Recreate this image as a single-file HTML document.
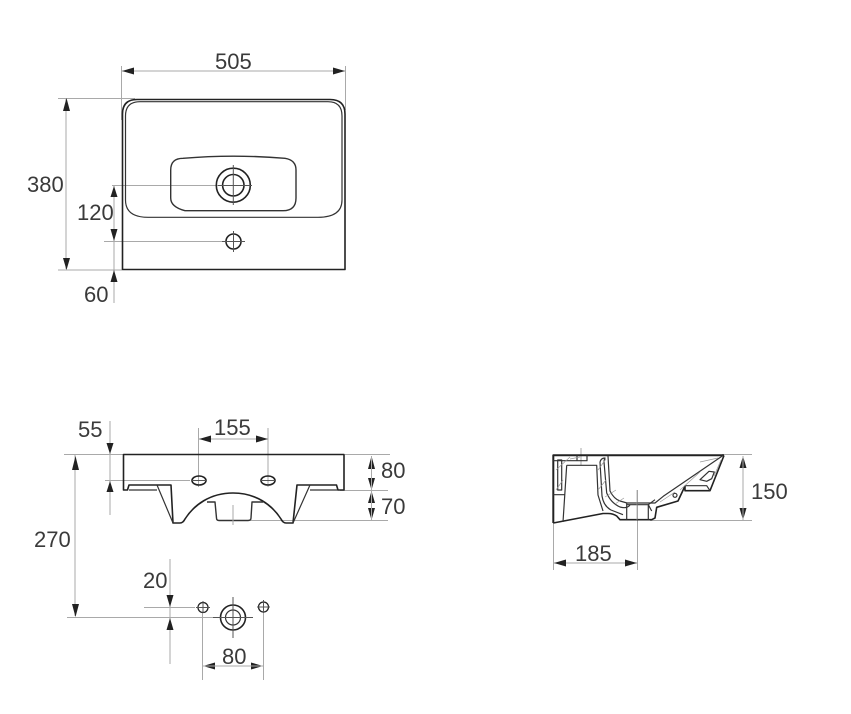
<!DOCTYPE html>
<html><head><meta charset="utf-8"><style>
html,body{margin:0;padding:0;background:#fff;width:851px;height:714px;overflow:hidden}
svg{display:block}
text{font-family:"Liberation Sans",sans-serif;font-size:22px;fill:#3a3a3a}
.d{stroke:#a9a9a9;stroke-width:1;fill:none}
.o{stroke:#222;stroke-width:1.6;fill:none;stroke-linejoin:round}
.t{stroke:#333;stroke-width:1.2;fill:none;stroke-linejoin:round}
.h{stroke:#999;stroke-width:.7;fill:none}
.a{fill:#222;stroke:none}
.c{stroke:#555;stroke-width:1;fill:none}
</style></head><body>
<svg width="851" height="714" viewBox="0 0 851 714" xmlns="http://www.w3.org/2000/svg">
<!-- TOP VIEW dims -->
<path class="d" d="M121.500,66V120M345.500,66V110M122,71H345M58,98.500H135M66,98V269M58,270H122M112,185.500H220M104,241.500H222M114,186V303"/>
<polygon class="a" points="122,71 134,67.500 134,74.500"/><polygon class="a" points="345,71 333,67.500 333,74.500"/>
<polygon class="a" points="66.500,98 63,111 70,111"/><polygon class="a" points="66.500,270 63,258 70,258"/>
<polygon class="a" points="114,186 110.500,197 117.500,197"/><polygon class="a" points="114,241 110.500,229 117.500,229"/>
<polygon class="a" points="114,270 110.500,282 117.500,282"/>
<text x="215" y="69">505</text><text x="27" y="192">380</text><text x="77" y="220">120</text><text x="84" y="302">60</text>
<!-- TOP VIEW shape -->
<path class="o" d="M122.500,114Q122.500,99.500 137,99.500H330Q345,99.500 345,114V269.500H122.500Z"/>
<path class="t" d="M125.500,116Q125.500,101.700 140,101.700H328Q342,101.700 342,116V200Q342,217.300 318,217.300H148Q125.500,217.300 125.500,200Z"/>
<path class="t" style="stroke-width:1.4" d="M170.700,170Q170.700,158.300 183,158.300Q233,154 285,158.300Q296,160 296,170V198Q296,210.700 283,210.700H185Q170.700,207 170.700,198Z"/>
<circle class="o" cx="233.300" cy="185.200" r="17"/><circle class="o" cx="233.300" cy="185.200" r="10.700"/>
<path class="c" d="M233.300,165V205M218,185.500H252"/>
<circle class="o" cx="233.500" cy="241.500" r="7.500"/>
<path class="c" d="M233.500,231V252M222,241.500H245"/>
<!-- FRONT VIEW dims -->
<path class="d" d="M110,421V515M64,454.500H123M345,454.500H390M198.500,428V487M268,428V487M199,439H268M105,480.500H190M340,490.500H388M250,520.500H388M75,455V616M67,617.500H253M144,607.500H195M170,559V664M202.500,612V680M263.500,612V680"/>
<polygon class="a" points="110,454 106.500,443 113.500,443"/><polygon class="a" points="110,481 106.500,492 113.500,492"/>
<polygon class="a" points="199,439 211,435.500 211,442.500"/><polygon class="a" points="268,439 256,435.500 256,442.500"/>
<polygon class="a" points="75.500,456 72,470 79,470"/><polygon class="a" points="75.500,617 72,604 79,604"/>
<polygon class="a" points="371.500,456 368,469 375,469"/><polygon class="a" points="371.500,490 368,478 375,478"/>
<polygon class="a" points="371.500,491 368,503 375,503"/><polygon class="a" points="371.500,520 368,508 375,508"/>
<path class="d" d="M371.500,456V520"/>
<polygon class="a" points="170,607 166.500,595 173.500,595"/><polygon class="a" points="170,618 166.500,630 173.500,630"/>
<polygon class="a" points="203,666 215,662.500 215,669.500"/><polygon class="a" points="263,666 251,662.500 251,669.500"/>
<path class="d" d="M203,666H263"/>
<text x="78" y="437">55</text><text x="214" y="435">155</text><text x="381" y="478">80</text><text x="381" y="514">70</text><text x="34" y="547">270</text><text x="143" y="588">20</text><text x="222" y="664">80</text>
<!-- FRONT VIEW shape -->
<path class="o" d="M123.500,490V454.500H344V490H338L336.500,485H297L293,523H286Q283,523 281,519C272,505 256,493 233,493C210,493 194,505 185,519Q183,523 180,523H173L171,485H129L127.500,490Z"/>
<path class="t" d="M129,490H157M157,485L173,523M310,485L293,523M310,490H338"/>
<path class="t" style="stroke-width:1.4" d="M207,502H215L216.500,518Q216.500,520.500 219,520.500H248Q251,520.500 251,518L252,502H263"/>
<path class="d" d="M233,505V525"/>
<ellipse class="o" cx="199" cy="480.500" rx="7" ry="4.500"/><ellipse class="o" cx="268" cy="480.500" rx="7" ry="4.500"/>
<path class="c" d="M191,480.500H207M260,480.500H276"/>
<!-- BOTTOM HOLES -->
<circle class="o" style="stroke-width:1.3" cx="203" cy="607.500" r="5"/><circle class="o" style="stroke-width:1.3" cx="263.500" cy="607" r="5"/>
<circle class="o" cx="233" cy="617.500" r="12.500"/><circle class="t" cx="233" cy="617.500" r="7.500"/>
<path class="c" d="M203,601V613M196,607.500H210M263.500,600V613M257,607H270M233,597V638M213,617.500H253"/>
<!-- SIDE VIEW dims -->
<path class="d" d="M553.500,520V570M637.500,490V570M722,454.500H752M650,520.500H752M581,448V465"/>
<polygon class="a" points="743,456 739.500,468 746.500,468"/><polygon class="a" points="743,520 739.500,508 746.500,508"/>
<path class="d" d="M743,456V520M554,563H637"/>
<polygon class="a" points="554,563 566,559.500 566,566.500"/><polygon class="a" points="637,563 625,559.500 625,566.500"/>
<text x="751" y="499">150</text><text x="575" y="561">185</text>
<!-- SIDE VIEW shape -->
<path class="o" style="stroke-width:2" d="M553.300,523V455.300H724"/>
<path class="o" d="M724,455.500L710,490.700H685V486L678,501L656.700,507.300L655,518L651.700,519.700H620L616.700,516Q613,513.500 608,513.500H603L553.300,523"/>
<path class="t" d="M553.300,460.700H587V455.300M577,455.300V460.700M566.700,465.300H596.700L598,495L603,511M566.700,465.300L563,522M553.300,494.700H565M557.700,460H561.700V490H557.700Z"/>
<path class="t" d="M600,462L602,496Q603.500,506 611,510L623,514.700M600,462Q601,458 605,458Q604,460 604,462L606.700,493Q611,503 620,507Q627,509 630,505M608,456L610,491Q614,499 620,501L627,503H655L663.300,496.300L723,455.500"/>
<path class="t" d="M626.700,503V519.700M627,504.700H648.300L651.700,511M648.300,504.700V519.700M655,499.700L648.300,504.700"/>
<path class="t" d="M685,485.700H706.700L710,490.700M700,479.700L709,471.300L714.300,472L711.700,478.700L706.700,481.300Z"/>
<circle class="t" cx="675" cy="495.300" r="2"/>
<path class="h" d="M556,470L570,457M556,490L563,480M570,459L580,457M598,470L606,459M598,490L606,480M605,497L616,490M615,504L624,498M660,502L675,492M680,490L700,472M700,462L718,458M714,476L721,460M637,490V520"/>
</svg>
</body></html>
